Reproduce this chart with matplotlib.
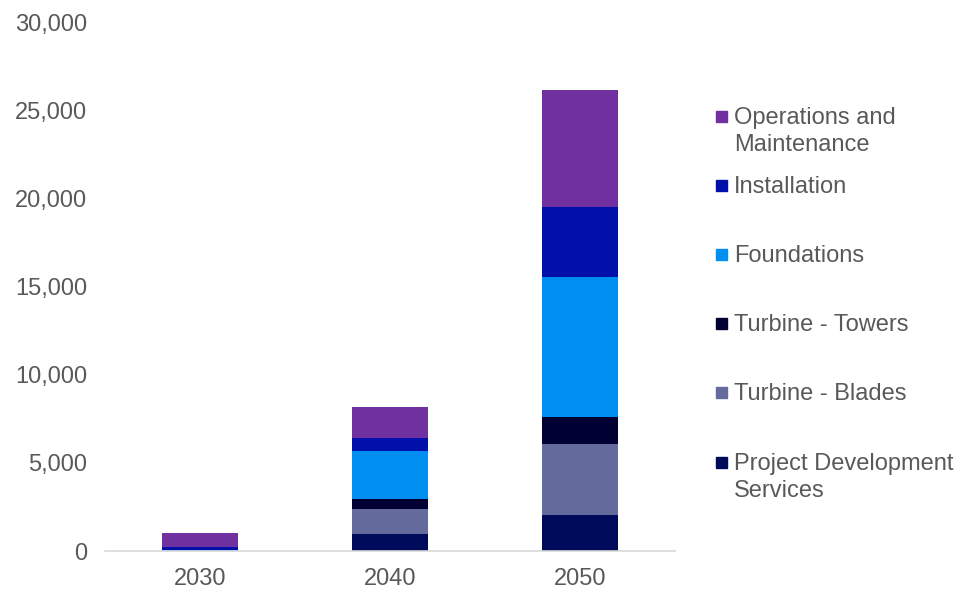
import matplotlib.pyplot as plt
from matplotlib.patches import Rectangle
import numpy as np

plt.rcParams['font.family'] = ['Liberation Sans', 'DejaVu Sans']

years = ["2030", "2040", "2050"]
series = ["Project Development\nServices", "Turbine - Blades", "Turbine - Towers",
          "Foundations", "Installation", "Operations and\nMaintenance"]
project_dev = [20, 960, 2040]
blades = [0, 1410, 4010]
towers = [0, 560, 1530]
foundations = [30, 2760, 7940]
installation = [200, 740, 4010]
operations = [750, 1750, 6620]
colors = ["#000A5A", "#646A9C", "#000032", "#008FF0", "#0010A8", "#7030A0"]

values = [project_dev, blades, towers, foundations, installation, operations]

fig = plt.figure(figsize=(9.74, 5.93), dpi=100)
ax = fig.add_axes([105 / 974, 1 - 551 / 593, 570 / 974, 529 / 593])

x = np.arange(len(years))
bottom = np.zeros(len(years))
for vals, col in zip(values, colors):
    ax.bar(x, vals, width=0.405, bottom=bottom, color=col, zorder=2)
    bottom += np.array(vals)

ax.set_xlim(-0.5, 2.5)
ax.set_ylim(0, 30000)
ax.set_yticks(range(0, 30001, 5000))
ax.set_yticklabels([f"{v:,}" for v in range(0, 30001, 5000)])
ax.set_xticks(x)
ax.set_xticklabels(years)
ax.tick_params(axis='both', length=0, labelsize=17, colors="#595959")
ax.tick_params(axis='y', pad=13)
ax.tick_params(axis='x', pad=12)
for s in ["top", "right", "left"]:
    ax.spines[s].set_visible(False)
ax.spines["bottom"].set_color("#D9D9D9")
ax.spines["bottom"].set_linewidth(1.2)

# legend, drawn by hand so the squares sit on the first text line
ys = [116, 185, 254, 323, 392, 462]
for label, col, yy in zip(series[::-1], colors[::-1], ys):
    fig.patches.append(Rectangle((716 / 974, 1 - (yy + 5.5) / 593), 11 / 974, 11 / 593,
                                 transform=fig.transFigure, color=col))
    fig.text(734 / 974, 1 - (yy - 9) / 593, label, fontsize=17, color="#595959",
             va="top", ha="left", linespacing=1.3)

fig.savefig("out.png", dpi=100)
